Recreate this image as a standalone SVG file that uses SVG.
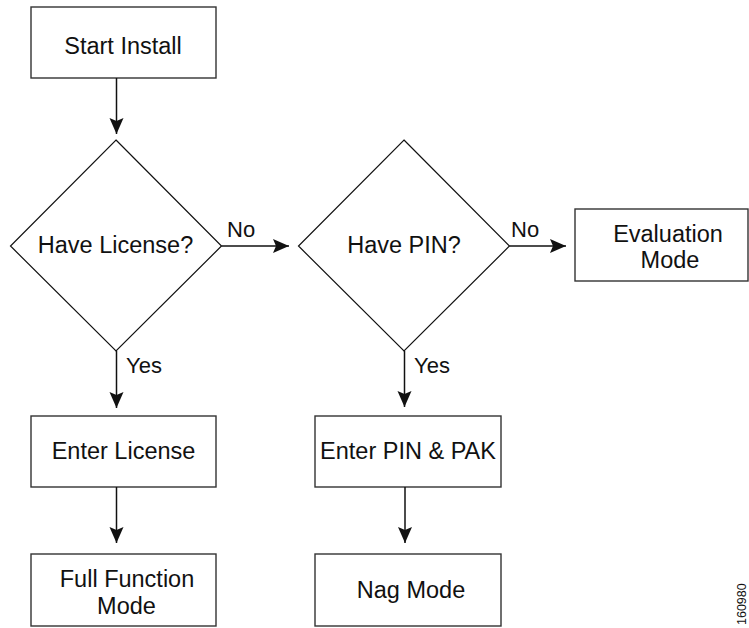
<svg xmlns="http://www.w3.org/2000/svg" width="749" height="628" viewBox="0 0 749 628">
  <style>
    .box { fill: #ffffff; stroke: #333333; stroke-width: 1.4; }
    .dia { fill: #ffffff; stroke: #111111; stroke-width: 1.2; }
    .lbl { font-family: "Liberation Sans", Arial, sans-serif; font-size: 23.5px; fill: #111111; text-anchor: middle; }
    .tag { font-family: "Liberation Sans", Arial, sans-serif; font-size: 22px; fill: #111111; }
    .edge { fill: none; stroke: #111111; stroke-width: 1.5; marker-end: url(#arrow); }
    .fig { font-family: "Liberation Sans", Arial, sans-serif; font-size: 12.5px; fill: #111111; }
  </style>
  <defs>
    <marker id="arrow" markerUnits="userSpaceOnUse" markerWidth="18" markerHeight="16" refX="16" refY="7" orient="auto">
      <path d="M16,7 L0,0 L3,7 L0,14 Z" fill="#111111"/>
    </marker>
  </defs>

  <g id="start">
    <rect class="box" x="31" y="7" width="185" height="71"/>
    <text class="lbl" x="123" y="54">Start Install</text>
  </g>

  <g id="have-license">
    <polygon class="dia" points="116,140 221.5,246 116,351 10.5,246"/>
    <text class="lbl" x="115.5" y="253">Have License?</text>
  </g>

  <g id="have-pin">
    <polygon class="dia" points="404,140 509.5,246 404,351 298.5,246"/>
    <text class="lbl" x="404" y="253">Have PIN?</text>
  </g>

  <g id="evaluation">
    <rect class="box" x="575" y="209" width="173" height="72"/>
    <text class="lbl" x="668" y="242">Evaluation</text>
    <text class="lbl" x="670" y="268">Mode</text>
  </g>

  <g id="enter-license">
    <rect class="box" x="31" y="416" width="185" height="71"/>
    <text class="lbl" x="123.5" y="459">Enter License</text>
  </g>

  <g id="enter-pin">
    <rect class="box" x="315" y="416" width="186" height="71"/>
    <text class="lbl" x="408" y="459">Enter PIN &amp; PAK</text>
  </g>

  <g id="full-function">
    <rect class="box" x="31" y="554" width="185" height="72"/>
    <text class="lbl" x="127" y="587">Full Function</text>
    <text class="lbl" x="126.5" y="614">Mode</text>
  </g>

  <g id="nag">
    <rect class="box" x="315" y="554" width="186" height="72"/>
    <text class="lbl" x="411" y="598">Nag Mode</text>
  </g>

  <g id="connectors">
    <line class="edge" x1="116.5" y1="78" x2="116.5" y2="134"/>
    <line class="edge" x1="221.5" y1="246" x2="289" y2="246"/>
    <line class="edge" x1="509.5" y1="246" x2="566" y2="246"/>
    <line class="edge" x1="116.5" y1="351" x2="116.5" y2="408"/>
    <line class="edge" x1="404.5" y1="351" x2="404.5" y2="407"/>
    <line class="edge" x1="116.5" y1="487" x2="116.5" y2="543"/>
    <line class="edge" x1="405" y1="487" x2="405" y2="543"/>
    <text class="tag" x="227" y="237">No</text>
    <text class="tag" x="511" y="237">No</text>
    <text class="tag" x="126" y="373">Yes</text>
    <text class="tag" x="414" y="373">Yes</text>
  </g>

  <text class="fig" transform="translate(746,625) rotate(-90)">160980</text>
</svg>
